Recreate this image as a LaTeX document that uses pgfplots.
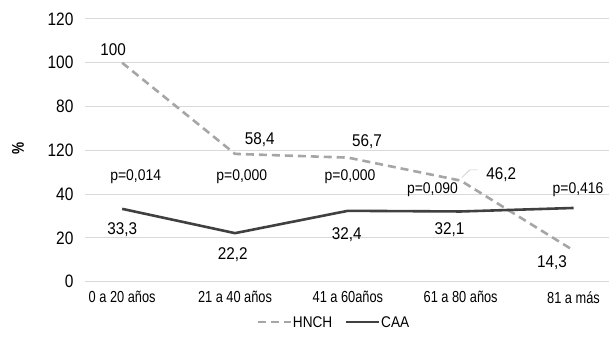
\documentclass[border=0pt]{standalone}
\usepackage{pgfplots}
\pgfplotsset{compat=1.18}
\usepackage{fontspec}
\setmainfont{Liberation Sans}
\newfontfamily\fy{Liberation Sans}[FakeStretch=0.86]
\newfontfamily\fx{Liberation Sans}[FakeStretch=0.8]
\newfontfamily\fd{Liberation Sans}[FakeStretch=0.9]
\newfontfamily\fl{Liberation Sans}[FakeStretch=0.88]
\definecolor{hn}{HTML}{A6A6A6}
\definecolor{ca}{HTML}{404040}
\definecolor{gr}{HTML}{D9D9D9}
\begin{document}
\begin{tikzpicture}
\begin{axis}[
  scale only axis, width=524pt, height=263pt,
  xmin=-0.33, xmax=4.31, ymin=0, ymax=120,
  axis line style={draw=none},
  major tick length=0pt,
  xtick={0,1,2,3,4},
  xticklabels={0 a 20 años,21 a 40 años,41 a 60años,61 a 80 años,81 a más},
  ytick={0,20,40,60,80,100,120},
  yticklabels={0,20,40,120,80,100,120},
  ymajorgrids, grid style={draw=gr, line width=1pt},
  x tick label style={font=\fx\fontsize{16}{18}\selectfont, yshift=-6pt},
  y tick label style={font=\fy\fontsize{18}{20}\selectfont, xshift=-8pt},
  legend style={at={(0.475,-0.115)}, anchor=north, draw=none, fill=none,
    legend columns=2, font=\fl\fontsize{15.5}{17}\selectfont,
    nodes={inner xsep=1pt},
    /tikz/every even column/.append style={column sep=12pt}},
  legend image code/.code={\draw[#1, line width=1.9pt] (0pt,0pt) -- (33pt,0pt);},
  clip=false,
]
\addplot[hn, line width=2.6pt, dash pattern=on 8pt off 5pt] coordinates {(0,100) (1,58.4) (2,56.7) (3,46.2) (4,14.3)};
\addlegendentry{HNCH}
\addplot[ca, line width=2.6pt] coordinates {(0,33.3) (1,22.2) (2,32.4) (3,32.1) (4,33.7)};
\addlegendentry{CAA}

% data labels
\tikzset{dl/.style={font=\fd\fontsize{17}{19}\selectfont, inner sep=0pt}}
\tikzset{pl/.style={font=\fd\fontsize{15.5}{17}\selectfont, inner sep=0pt}}
\node[dl] at (axis cs:-0.08,106) {100};
\node[dl] at (axis cs:1.22,64.8) {58,4};
\node[dl] at (axis cs:2.17,63.9) {56,7};
\node[dl] at (axis cs:3.36,48.9) {46,2};
\node[dl] at (axis cs:3.81,8.7) {14,3};
\draw[gr!80!gray, line width=0.6pt] (axis cs:3.01,47.5) -- (axis cs:3.08,51.1) -- (axis cs:3.15,51.1);
\node[dl] at (axis cs:0,23.7) {33,3};
\node[dl] at (axis cs:0.98,12.3) {22,2};
\node[dl] at (axis cs:1.99,21.5) {32,4};
\node[dl] at (axis cs:2.90,23.7) {32,1};
% p values
\node[pl] at (axis cs:0.12,48) {p=0,014};
\node[pl] at (axis cs:1.06,48) {p=0,000};
\node[pl] at (axis cs:2.02,48) {p=0,000};
\node[pl] at (axis cs:2.75,42) {p=0,090};
\node[pl] at (axis cs:4.04,42) {p=0,416};
\end{axis}
\node[rotate=90, font=\fx\bfseries\fontsize{17}{19}\selectfont] at ([xshift=-67pt,yshift=2pt]current axis.west) {\%};
\path[use as bounding box] ([shift={(-85pt,-56pt)}]current axis.south west) rectangle ([yshift=19pt]current axis.north east);
\end{tikzpicture}
\end{document}
